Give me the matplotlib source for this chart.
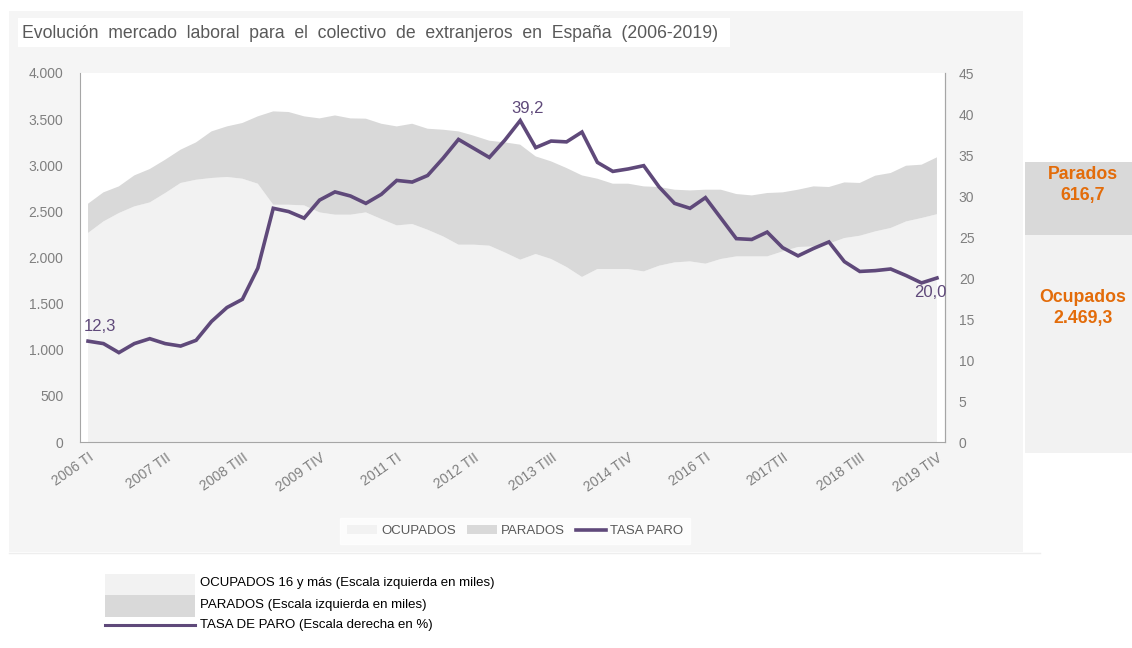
import matplotlib
matplotlib.use("Agg")
import matplotlib.pyplot as plt
from matplotlib.patches import Rectangle
from matplotlib.lines import Line2D
from matplotlib.ticker import FuncFormatter

plt.rcParams['font.family'] = ['Liberation Sans', 'DejaVu Sans']

# quarterly data 2006 TI .. 2019 TIV (miles / %)
years = list(range(2006, 2020))
quarters = ['TI', 'TII', 'TIII', 'TIV']
periods = [f"{y} {q}" for y in years for q in quarters]

ocupados = [2266, 2391, 2482, 2554, 2597, 2699, 2808, 2843, 2862, 2873,
            2854, 2800, 2572, 2572, 2565, 2489, 2464, 2464, 2489, 2417,
            2348, 2363, 2301, 2229, 2139, 2139, 2128, 2055, 1976, 2038,
            1984, 1897, 1789, 1875, 1875, 1875, 1849, 1911, 1947, 1958,
            1933, 1984, 2012, 2012, 2012, 2066, 2114, 2120, 2150, 2211,
            2236, 2283, 2320, 2391, 2428, 2469.3]
total = [2583, 2706, 2771, 2890, 2959, 3060, 3169, 3248, 3367, 3421,
         3458, 3530, 3584, 3577, 3530, 3508, 3540, 3508, 3505, 3450,
         3421, 3450, 3396, 3385, 3367, 3320, 3266, 3248, 3223, 3096,
         3042, 2970, 2890, 2854, 2800, 2800, 2771, 2764, 2735, 2727,
         2735, 2735, 2688, 2673, 2699, 2706, 2735, 2771, 2764, 2814,
         2808, 2887, 2916, 2995, 3006, 3086.0]
parados = [t - o for t, o in zip(total, ocupados)]
tasa_paro = [12.3, 12.0, 10.9, 12.0, 12.6, 12.0, 11.7, 12.4, 14.7, 16.4,
             17.4, 21.2, 28.5, 28.1, 27.3, 29.5, 30.5, 30.0, 29.1, 30.2,
             31.9, 31.7, 32.5, 34.6, 36.9, 35.8, 34.7, 36.8, 39.2, 35.9,
             36.7, 36.6, 37.8, 34.1, 33.0, 33.3, 33.7, 31.1, 29.1, 28.5,
             29.8, 27.3, 24.8, 24.7, 25.6, 23.7, 22.7, 23.6, 24.4, 22.0,
             20.8, 20.9, 21.1, 20.3, 19.4, 20.0]
tick_idx = list(range(0, 56, 5))
tick_labels = ['2006 TI', '2007 TII', '2008 TIII', '2009 TIV', '2011 TI', '2012 TII',
               '2013 TIII', '2014 TIV', '2016 TI', '2017TII', '2018 TIII', '2019 TIV']

C_OCU = '#f2f2f2'
C_PAR = '#d9d9d9'
C_LINE = '#5f497a'
C_TXT = '#7f7f7f'
C_ORANGE = '#e36c0a'


def miles(v, pos=None):
    return f"{int(v):,}".replace(",", ".")


def es(v):
    s = f"{v:,.1f}"
    return s.replace(",", "X").replace(".", ",").replace("X", ".")


W, H = 1132, 648
fig = plt.figure(figsize=(W / 100, H / 100), dpi=100)
fig.patch.set_facecolor('white')

def fx(px):
    return px / W

def fy(py):
    return 1 - py / H

# gray chart background
fig.patches.append(Rectangle((fx(9), fy(552)), fx(1023) - fx(9), fy(11) - fy(552),
                             transform=fig.transFigure, facecolor='#f5f5f5',
                             edgecolor='none', zorder=-5))
fig.lines.append(Line2D([fx(9), fx(1040)], [fy(553), fy(553)], transform=fig.transFigure,
                        color='#eeeeee', lw=1, zorder=-4))
# title box
fig.patches.append(Rectangle((fx(18), fy(47)), fx(730) - fx(18), fy(18) - fy(47),
                             transform=fig.transFigure, facecolor='white',
                             edgecolor='none', zorder=-4))
fig.text(fx(22), fy(33), 'Evolución  mercado  laboral  para  el  colectivo  de  extranjeros  en  España  (2006-2019)',
         fontsize=12.7, color='#595959', va='center', ha='left')

ax = fig.add_axes([fx(80), fy(442), fx(945) - fx(80), fy(73) - fy(442)])
ax.set_facecolor('white')
x = list(range(len(periods)))
ax.stackplot(x, ocupados, parados, colors=[C_OCU, C_PAR], lw=0)
ax.set_xlim(-0.52, 55.52)
ax.set_ylim(0, 4000)
ax.set_yticks(range(0, 4001, 500))
ax.yaxis.set_major_formatter(FuncFormatter(miles))
ax.set_xticks(tick_idx)
ax.set_xticklabels(tick_labels, rotation=35, ha='right', rotation_mode='anchor')
ax.spines['top'].set_visible(False)
for s in ['left', 'bottom', 'right']:
    ax.spines[s].set_color('#a6a6a6')
ax.tick_params(axis='both', length=0, colors=C_TXT, labelsize=10)
ax.tick_params(axis='x', pad=6)
ax.tick_params(axis='y', pad=12)

ax2 = ax.twinx()
ax2.plot(x, tasa_paro, color=C_LINE, lw=2.6, solid_joinstyle='miter')
ax2.set_ylim(0, 45)
ax2.set_yticks(range(0, 46, 5))
ax2.tick_params(axis='y', length=0, colors=C_TXT, labelsize=10, pad=10)
ax2.spines['top'].set_visible(False)
ax2.spines['right'].set_color('#a6a6a6')
ax2.spines['left'].set_visible(False)
ax2.spines['bottom'].set_visible(False)

# labels on the line
ax2.text(x[0] - 0.3, tasa_paro[0] + 0.9, es(tasa_paro[0]), color=C_LINE, fontsize=12, ha='left', va='bottom')
i_max = tasa_paro.index(max(tasa_paro))
ax2.text(x[i_max] + 0.5, tasa_paro[i_max] + 0.6, es(tasa_paro[i_max]), color=C_LINE, fontsize=12, ha='center', va='bottom')
ax2.text(x[-1] - 0.4, tasa_paro[-1] - 0.9, es(tasa_paro[-1]), color=C_LINE, fontsize=12, ha='center', va='top')

# inner legend
handles = [Rectangle((0, 0), 1, 1, facecolor=C_OCU, edgecolor='none'),
           Rectangle((0, 0), 1, 1, facecolor=C_PAR, edgecolor='none'),
           Line2D([], [], color=C_LINE, lw=2.6)]
leg = fig.legend(handles, ['OCUPADOS', 'PARADOS', 'TASA PARO'], loc='center',
                 bbox_to_anchor=(fx(515), fy(531)), ncol=3, frameon=True, fontsize=9.5,
                 handlelength=2.3, handletextpad=0.3, columnspacing=0.8,
                 borderpad=0.5, fancybox=False)
leg.get_frame().set_facecolor('white')
leg.get_frame().set_edgecolor('white')
for t in leg.get_texts():
    t.set_color('#595959')

# right panel with last values
fig.patches.append(Rectangle((fx(1025), fy(235)), fx(1132) - fx(1025), fy(162) - fy(235),
                             transform=fig.transFigure, facecolor=C_PAR, edgecolor='none'))
fig.patches.append(Rectangle((fx(1025), fy(453)), fx(1132) - fx(1025), fy(235) - fy(453),
                             transform=fig.transFigure, facecolor=C_OCU, edgecolor='none'))
fig.text(fx(1083), fy(185), f"Parados\n{es(parados[-1])}", color=C_ORANGE, fontsize=12.8,
         fontweight='bold', ha='center', va='center', linespacing=1.3)
fig.text(fx(1083), fy(308), f"Ocupados\n{es(ocupados[-1])}", color=C_ORANGE, fontsize=12.8,
         fontweight='bold', ha='center', va='center', linespacing=1.3)

# bottom legend
fig.patches.append(Rectangle((fx(105), fy(595)), fx(195) - fx(105), fy(574) - fy(595),
                             transform=fig.transFigure, facecolor=C_OCU, edgecolor='none'))
fig.patches.append(Rectangle((fx(105), fy(617)), fx(195) - fx(105), fy(595) - fy(617),
                             transform=fig.transFigure, facecolor=C_PAR, edgecolor='none'))
fig.lines.append(Line2D([fx(105), fx(195)], [fy(625), fy(625)], transform=fig.transFigure,
                        color=C_LINE, lw=2.2))
fig.text(fx(200), fy(583), 'OCUPADOS 16 y más (Escala izquierda en miles)', fontsize=9.5, va='center')
fig.text(fx(200), fy(605), 'PARADOS (Escala izquierda en miles)', fontsize=9.5, va='center')
fig.text(fx(200), fy(625), 'TASA DE PARO (Escala derecha en %)', fontsize=9.5, va='center')

fig.savefig('out.png', dpi=100)
